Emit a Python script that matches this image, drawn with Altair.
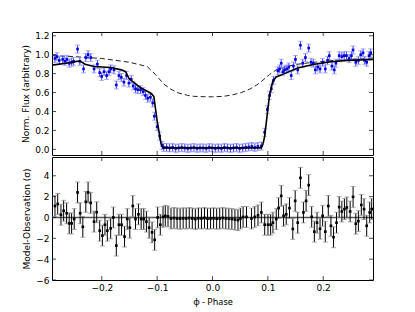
import altair as alt
import pandas as pd

# ---------------- data ----------------
# Top panel: normalised flux observations
flux_phase = [
    -0.2846, -0.281, -0.2768, -0.2707, -0.2666, -0.263, -0.2589, -0.2546, -0.251, -0.2438,
    -0.2397, -0.233, -0.2289, -0.2248, -0.22, -0.214, -0.208, -0.2038, -0.2002, -0.196,
    -0.1912, -0.187, -0.184, -0.178, -0.1738, -0.169, -0.1648, -0.160, -0.1553, -0.151,
    -0.1469, -0.1433, -0.1391, -0.135, -0.130, -0.1253, -0.1212, -0.117, -0.1122, -0.108,
    -0.105, -0.100, -0.0955, -0.0912, -0.0883,
    -0.083, -0.0775, -0.072, -0.0665, -0.061, -0.0555, -0.05, -0.0445, -0.039, -0.0335,
    -0.028, -0.0225, -0.017, -0.0115, -0.006, -0.0005, 0.005, 0.0105, 0.016, 0.0215,
    0.027, 0.0325, 0.038, 0.0435, 0.049, 0.0545, 0.06, 0.0655, 0.071, 0.0765, 0.082,
    0.0883, 0.0943, 0.099, 0.1032, 0.1063, 0.1104, 0.1181, 0.1212, 0.1242, 0.1271,
    0.1302, 0.1343, 0.1379, 0.1422, 0.1463, 0.1499, 0.154, 0.1589, 0.163, 0.1679,
    0.1738, 0.1781, 0.1822, 0.1858, 0.19, 0.1943, 0.199, 0.2038, 0.2079, 0.211,
    0.2158, 0.22, 0.223, 0.2289, 0.2337, 0.2379, 0.242, 0.2469, 0.251, 0.254,
    0.2589, 0.2636, 0.2679, 0.272, 0.275, 0.2786, 0.2828, 0.2858,
]
flux_value = [
    0.96, 0.98, 0.94, 0.95, 0.93, 0.95, 0.91, 0.92, 0.93, 1.06,
    0.93, 0.85, 0.97, 1.00, 0.97, 0.85, 0.90, 0.81, 0.77, 0.82,
    0.78, 0.82, 0.85, 0.84, 0.68, 0.78, 0.76, 0.71, 0.78, 0.70,
    0.74, 0.67, 0.64, 0.63, 0.63, 0.61, 0.57, 0.54, 0.55, 0.49,
    0.35, 0.24, 0.14, 0.04, 0.02,
    0.02, 0.015, 0.02, 0.01, 0.015, 0.02, 0.015, 0.01, 0.015, 0.02,
    0.01, 0.015, 0.015, 0.01, 0.02, 0.015, 0.01, 0.015, 0.01, 0.02,
    0.015, 0.01, 0.015, 0.02, 0.01, 0.015, 0.02, 0.025, 0.03, 0.02, 0.03,
    0.035, 0.18, 0.42, 0.57, 0.64, 0.73, 0.83, 0.85, 0.91, 0.82,
    0.84, 0.85, 0.87, 0.78, 0.88, 0.95, 0.84, 1.10, 0.91, 0.97,
    1.07, 0.92, 0.91, 0.84, 0.87, 0.85, 0.92, 0.85, 0.94, 0.99,
    0.88, 0.84, 0.91, 0.99, 0.98, 0.99, 0.99, 0.96, 0.99, 1.05,
    0.92, 0.94, 1.00, 1.02, 0.94, 0.92, 0.99, 1.02,
]
FLUX_ERR = 0.042

# Model light curve (solid) and comparison curve (dashed)
model_phase = [-0.29, -0.265, -0.24, -0.23, -0.214, -0.184, -0.165, -0.157, -0.151,
               -0.145, -0.13, -0.112, -0.106, -0.1, -0.093, -0.089, 0.088, 0.091,
               0.0943, 0.1032, 0.109, 0.115, 0.13, 0.154, 0.184, 0.214, 0.244, 0.29]
model_flux = [0.89, 0.91, 0.935, 0.90, 0.875, 0.865, 0.84, 0.82, 0.75,
              0.72, 0.65, 0.595, 0.56, 0.30, 0.06, 0.015, 0.015, 0.05,
              0.14, 0.58, 0.72, 0.765, 0.80, 0.86, 0.90, 0.925, 0.94, 0.95]

dash_phase = [-0.29, -0.25, -0.2, -0.15, -0.118, -0.103, -0.088, -0.075, -0.064,
              -0.045, -0.034, -0.015, 0.0, 0.02, 0.037, 0.052, 0.067, 0.08, 0.091,
              0.103, 0.115, 0.133, 0.155, 0.175, 0.2, 0.23, 0.26, 0.29]
dash_flux = [0.99, 0.98, 0.96, 0.92, 0.875, 0.79, 0.69, 0.635, 0.60,
             0.57, 0.56, 0.556, 0.555, 0.56, 0.577, 0.60, 0.635, 0.68, 0.73,
             0.79, 0.84, 0.875, 0.90, 0.915, 0.93, 0.945, 0.955, 0.965]

# Bottom panel: residuals in sigma
resid_phase = [
    -0.2846, -0.2797, -0.2738, -0.269, -0.2636, -0.2589, -0.2546, -0.2499, -0.2438, -0.2391,
    -0.2343, -0.2289, -0.2248, -0.22, -0.214, -0.2092, -0.2038, -0.1989, -0.1943, -0.19,
    -0.184, -0.1792, -0.1738, -0.1691, -0.1643, -0.1589, -0.154, -0.1494, -0.144, -0.1391,
    -0.1338, -0.1289, -0.1242, -0.1194, -0.1145, -0.1092, -0.1045, -0.0991, -0.0943, -0.0894,
    -0.0853, -0.0804,
    -0.075, -0.0695, -0.064, -0.0585, -0.053, -0.0475, -0.042, -0.0365, -0.031, -0.0255,
    -0.02, -0.0145, -0.009, -0.0035, 0.002, 0.0075, 0.013, 0.0185, 0.024, 0.0295,
    0.035, 0.0405, 0.046, 0.0505,
    0.0553, 0.0614, 0.0704, 0.0763, 0.0822, 0.0883, 0.0943, 0.1002, 0.105, 0.1092,
    0.1152, 0.1194, 0.1242, 0.1284, 0.1332, 0.1391, 0.1451, 0.1494, 0.154, 0.1589,
    0.1643, 0.1691, 0.1738, 0.1792, 0.184, 0.1889, 0.1943, 0.199, 0.2038, 0.2092,
    0.214, 0.2187, 0.2241, 0.2289, 0.2337, 0.2384, 0.2427, 0.2487, 0.254, 0.2589,
    0.2636, 0.2689, 0.2738, 0.2786, 0.284, 0.2876,
]
resid_value = [
    1.1, 1.3, 0.26, 0.64, 0.4, -0.57, -0.57, -0.15, 2.4, 0.4,
    -0.9, 1.5, 2.4, 1.4, -0.4, 0.5, -1.27, -1.74, -0.7, -1.27,
    -1.05, 0.0, -2.7, -0.7, -0.7, -1.84, -0.15, -0.98, 1.1, -0.15,
    0.3, -0.15, -0.15, -0.4, -0.98, -1.43, -2.15, 0.0, -0.7, 0.06,
    0.16, 0.1,
    -0.1, -0.05, -0.1, -0.12, -0.08, -0.1, -0.05, -0.1, -0.15, -0.08,
    -0.1, -0.05, -0.12, -0.1, -0.08, -0.12, -0.1, -0.05, -0.1, -0.12,
    -0.15, -0.2, -0.25, -0.1,
    0.05, 0.05, -0.1, 0.05, 0.2, 0.48, -0.7, -0.7, -0.7, -0.5,
    -0.15, 0.9, 2.07, 0.16, 0.3, 0.9, -1.1, 1.59, -0.5, 3.8,
    0.48, 1.59, 3.1, 0.06, -1.36, -0.5, -1.08, 0.16, -1.36, 1.1,
    -0.8, -1.9, -0.5, 1.0, 0.57, 0.8, 0.96, 0.57, 1.97, -0.6,
    -0.35, 1.2, 0.8, -0.8, 0.48, 0.8,
]
RESID_ERR = 1.0

# axes
x_domain = [-0.29, 0.29]
flux_domain = [-0.06, 1.24]
resid_domain = [-6, 5.8]
x_ticks = [-0.2, -0.1, 0.0, 0.1, 0.2]
flux_ticks = [0.0, 0.2, 0.4, 0.6, 0.8, 1.0, 1.2]
resid_ticks = [-6, -4, -2, 0, 2, 4]

W, H = 321, 123
FONT = "DejaVu Sans"

# ---------------- frames ----------------
obs = pd.DataFrame({"phase": flux_phase, "flux": flux_value})
obs["lo"] = obs["flux"] - FLUX_ERR
obs["hi"] = obs["flux"] + FLUX_ERR
caps = pd.concat([obs[["phase", "lo"]].rename(columns={"lo": "y"}),
                  obs[["phase", "hi"]].rename(columns={"hi": "y"})])
model = pd.DataFrame({"phase": model_phase, "flux": model_flux})
dash = pd.DataFrame({"phase": dash_phase, "flux": dash_flux})

res = pd.DataFrame({"phase": resid_phase, "r": resid_value})
res["lo"] = res["r"] - RESID_ERR
res["hi"] = res["r"] + RESID_ERR
rcaps = pd.concat([res[["phase", "lo"]].rename(columns={"lo": "y"}),
                   res[["phase", "hi"]].rename(columns={"hi": "y"})])

xs = alt.Scale(domain=x_domain, nice=False, zero=False)
ys_top = alt.Scale(domain=flux_domain, nice=False, zero=False)
ys_bot = alt.Scale(domain=resid_domain, nice=False, zero=False)

ax_top = alt.Axis(values=flux_ticks, format=".1f", title="Norm. Flux (arbitrary)",
                  labelPadding=3, titlePadding=4, labelOverlap=False)
ax_x = alt.Axis(values=x_ticks, format=".1f", title="\u03c6 - Phase", labelPadding=3, titlePadding=5,
                labelOverlap=False, titleFont="Noto Sans")
ax_bot = alt.Axis(values=resid_ticks, format="d", title="Model-Observation (\u03c3)",
                  labelPadding=3, titlePadding=4, labelOverlap=False)


def inward_ticks(xaxis, yscale, yaxis, yticks, ydom):
    xt = pd.DataFrame({"v": x_ticks})
    yt = pd.DataFrame({"v": yticks})
    left = alt.Chart(yt).mark_tick(orient="horizontal", size=4, thickness=1, color="black", xOffset=2).encode(
        x=alt.X(datum=x_domain[0], scale=xs, axis=xaxis), y=alt.Y("v:Q", scale=yscale, axis=yaxis))
    right = alt.Chart(yt).mark_tick(orient="horizontal", size=4, thickness=1, color="black", xOffset=-2).encode(
        x=alt.X(datum=x_domain[1], scale=xs, axis=xaxis), y=alt.Y("v:Q", scale=yscale, axis=yaxis))
    bottom = alt.Chart(xt).mark_tick(orient="vertical", size=4, thickness=1, color="black", yOffset=-2).encode(
        x=alt.X("v:Q", scale=xs, axis=xaxis), y=alt.Y(datum=ydom[0], scale=yscale, axis=yaxis))
    top = alt.Chart(xt).mark_tick(orient="vertical", size=4, thickness=1, color="black", yOffset=2).encode(
        x=alt.X("v:Q", scale=xs, axis=xaxis), y=alt.Y(datum=ydom[1], scale=yscale, axis=yaxis))
    return [left, right, bottom, top]


# ---------------- top panel ----------------
xt_none = alt.X("phase:Q", scale=xs, axis=None)

dash_line = alt.Chart(dash).mark_line(color="#222222", strokeWidth=1, strokeDash=[5, 3], clip=True).encode(
    x=xt_none, y=alt.Y("flux:Q", scale=ys_top, axis=ax_top))
err = alt.Chart(obs).mark_rule(color="#3d3dff", strokeWidth=1, clip=True).encode(
    x=xt_none, y=alt.Y("lo:Q", scale=ys_top, axis=ax_top), y2="hi:Q")
cap = alt.Chart(caps).mark_tick(orient="horizontal", size=5, thickness=1, color="#9090ff", clip=True).encode(
    x=xt_none, y=alt.Y("y:Q", scale=ys_top, axis=ax_top))
pts = alt.Chart(obs).mark_square(size=7, color="#0000dd", opacity=1, clip=True).encode(
    x=xt_none, y=alt.Y("flux:Q", scale=ys_top, axis=ax_top))
model_line = alt.Chart(model).mark_line(color="black", strokeWidth=1.6, clip=True).encode(
    x=xt_none, y=alt.Y("flux:Q", scale=ys_top, axis=ax_top))

top = alt.layer(dash_line, err, cap, pts, model_line,
                *inward_ticks(None, ys_top, ax_top, flux_ticks, flux_domain)).properties(width=W, height=H)

# ---------------- bottom panel ----------------
xb = alt.X("phase:Q", scale=xs, axis=ax_x)

zero = alt.Chart(pd.DataFrame({"z": [0]})).mark_rule(color="#555555", strokeWidth=1.5).encode(
    y=alt.Y("z:Q", scale=ys_bot, axis=ax_bot))
rerr = alt.Chart(res).mark_rule(color="black", strokeWidth=1, clip=True).encode(
    x=xb, y=alt.Y("lo:Q", scale=ys_bot, axis=ax_bot), y2="hi:Q")
rcap = alt.Chart(rcaps).mark_tick(orient="horizontal", size=5, thickness=1, color="#8a8a8a", clip=True).encode(
    x=xb, y=alt.Y("y:Q", scale=ys_bot, axis=ax_bot))
rpts = alt.Chart(res).mark_square(size=7, color="black", opacity=1, clip=True).encode(
    x=xb, y=alt.Y("r:Q", scale=ys_bot, axis=ax_bot))

bottom = alt.layer(zero, rerr, rcap, rpts,
                   *inward_ticks(ax_x, ys_bot, ax_bot, resid_ticks, resid_domain)).properties(width=W, height=H)

chart = alt.vconcat(top, bottom, spacing=0).properties(
    padding={"left": 13, "top": 23, "right": 10, "bottom": 4}
).configure_view(stroke="black", strokeWidth=1).configure_axis(
    labelFont=FONT, titleFont=FONT, labelFontSize=9, titleFontSize=9,
    titleFontWeight="normal", ticks=False, domain=False, grid=False,
    labelColor="black", titleColor="black", labelOverlap=False
)

chart.save("out.html", embed_options={"renderer": "svg", "actions": False})
